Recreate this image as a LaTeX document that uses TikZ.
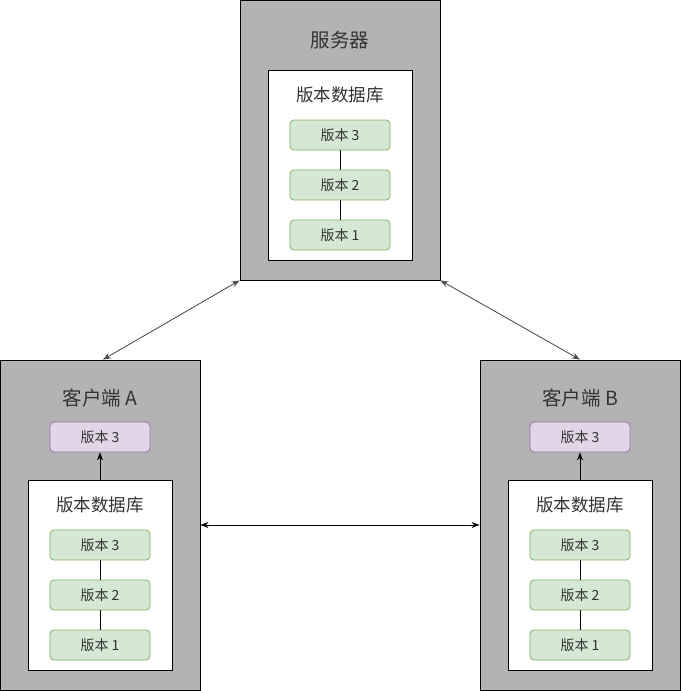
\documentclass[tikz,border=0pt]{standalone}
\usepackage{fontspec}
\setmainfont{Noto Sans CJK SC}
\usetikzlibrary{arrows.meta}
\definecolor{outerfill}{HTML}{B3B3B3}
\definecolor{gfill}{HTML}{D5E8D4}
\definecolor{gline}{HTML}{82B366}
\definecolor{pfill}{HTML}{E1D5E7}
\definecolor{pline}{HTML}{9673A6}
\definecolor{txt}{HTML}{333333}
\definecolor{arr}{HTML}{4D4D4D}
\tikzset{
  outerbox/.style={draw=black, fill=outerfill, line width=0.8pt, minimum width=200pt, minimum height=#1, inner sep=0pt},
  innerbox/.style={draw=black, fill=white, line width=0.8pt, minimum width=144pt, minimum height=190pt, inner sep=0pt},
  ver/.style={draw=gline, fill=gfill, rounded corners=4pt, line width=0.8pt, minimum width=100pt, minimum height=30pt, inner sep=0pt, font=\fontsize{14}{16}\selectfont, text=txt},
  verp/.style={ver, draw=pline, fill=pfill},
  titletext/.style={font=\fontsize{19.5}{22}\selectfont, text=txt},
  dbtext/.style={font=\fontsize{17.5}{20}\selectfont, text=txt},
  link/.style={draw=black, line width=0.8pt},
  dbl/.style={line width=0.8pt, {Stealth[length=8pt,width=6pt]}-{Stealth[length=8pt,width=6pt]}},
}
\begin{document}
\begin{tikzpicture}[x=1pt,y=-1pt]
\useasboundingbox (0,0) rectangle (681,691);
% server
\node[outerbox=280pt] (srv) at (340,140) {};
\node[titletext] (srvt) at (340,40) {服务器};
\node[innerbox] (sdb) at (340,165) {};
\node[dbtext] (sdbt) at (340,95) {版本数据库};
\node[ver] (s3) at (340,135) {版本 3};
\node[ver] (s2) at (340,185) {版本 2};
\node[ver] (s1) at (340,235) {版本 1};
\draw[link] (s3) -- (s2);
\draw[link] (s2) -- (s1);
% client A
\node[outerbox=330pt] (ca) at (100,525) {};
\node[titletext] (cat) at (100,398) {客户端 A};
\node[verp] (cap) at (100,437) {版本 3};
\node[innerbox] (cadb) at (100,575) {};
\node[dbtext] (cadbt) at (100,505) {版本数据库};
\node[ver] (a3) at (100,545) {版本 3};
\node[ver] (a2) at (100,595) {版本 2};
\node[ver] (a1) at (100,645) {版本 1};
\draw[link] (a3) -- (a2);
\draw[link] (a2) -- (a1);
\draw[line width=0.8pt, -{Stealth[length=8pt,width=6pt]}] (cadb.north) -- (cap.south);
% client B
\node[outerbox=330pt] (cb) at (580,525) {};
\node[titletext] (cbt) at (580,398) {客户端 B};
\node[verp] (cbp) at (580,437) {版本 3};
\node[innerbox] (cbdb) at (580,575) {};
\node[dbtext] (cbdbt) at (580,505) {版本数据库};
\node[ver] (b3) at (580,545) {版本 3};
\node[ver] (b2) at (580,595) {版本 2};
\node[ver] (b1) at (580,645) {版本 1};
\draw[link] (b3) -- (b2);
\draw[link] (b2) -- (b1);
\draw[line width=0.8pt, -{Stealth[length=8pt,width=6pt]}] (cbdb.north) -- (cbp.south);
% connections
\coordinate (canorth) at ([xshift=3pt]ca.north);
\draw[dbl, draw=arr, fill=black] (srv.south west) -- (canorth);
\draw[dbl, draw=arr, fill=black] (srv.south east) -- (cb.north);
\draw[dbl, draw=black] (ca.east) -- (cb.west);
\end{tikzpicture}
\end{document}
